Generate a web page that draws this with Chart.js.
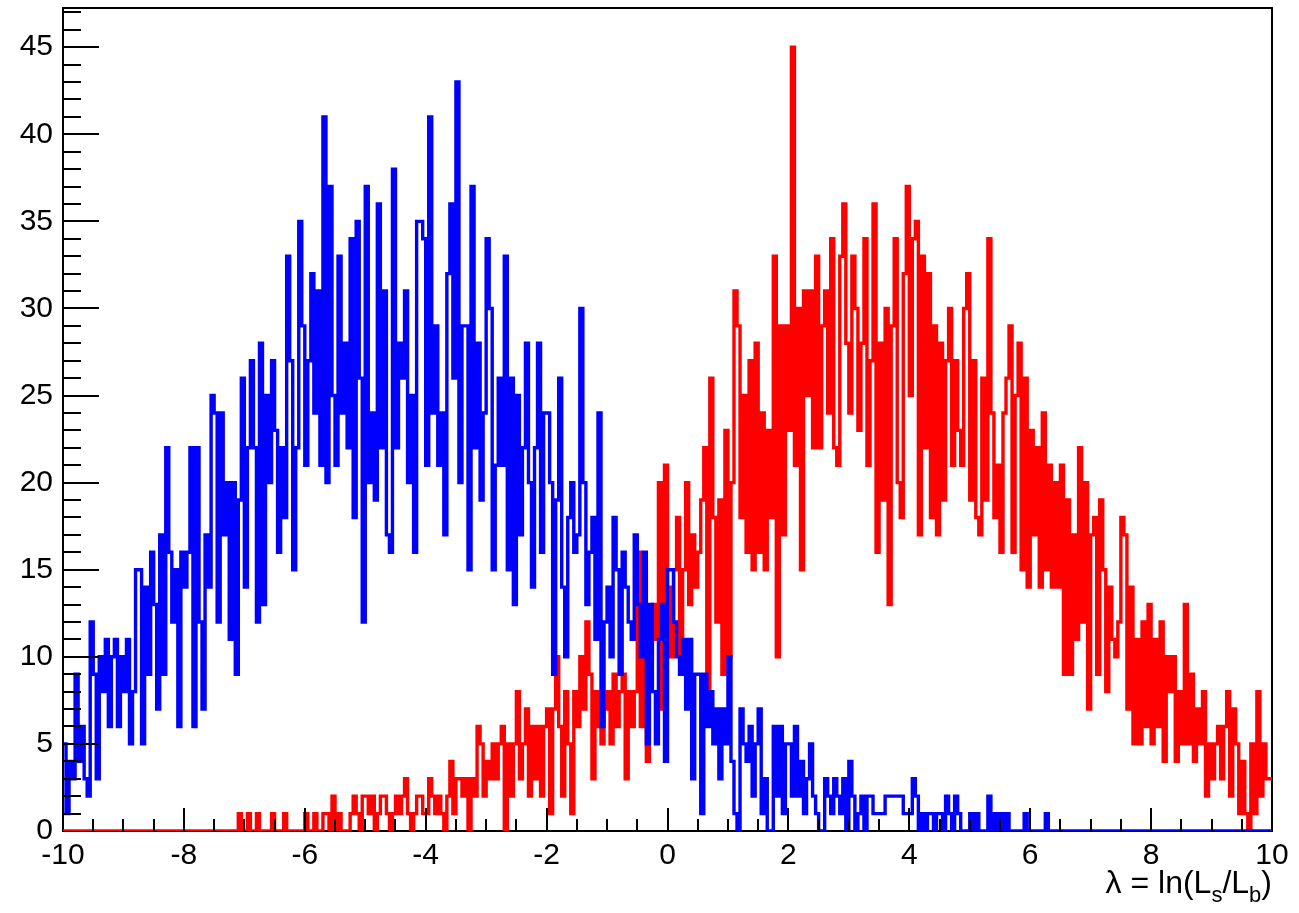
<!DOCTYPE html>
<html>
<head>
<meta charset="utf-8">
<script src="https://cdn.jsdelivr.net/npm/chart.js@4.4.0/dist/chart.umd.min.js"></script>
<style>
  html, body { margin: 0; padding: 0; background: #fff; }
  #wrap { width: 1299px; height: 913px; }
</style>
</head>
<body>
<div id="wrap"><canvas id="lambdaChart" width="1299" height="913"></canvas></div>
<script>
// binning of both histograms: 400 bins from -10 to 10
const xMin = -10;
const xMax = 10;
const binWidth = 0.05;
const yMax = 47.25;

const xTickValues = [-10, -8, -6, -4, -2, 0, 2, 4, 6, 8, 10];
const yTickValues = [0, 5, 10, 15, 20, 25, 30, 35, 40, 45];

// background hypothesis (blue), counts per bin
const blueCounts = [
  5, 1, 4, 3, 9, 4, 6, 3, 2, 12,   9, 3, 10, 8, 11, 6, 10, 11, 6, 10,
  8, 11, 5, 8, 15, 15, 5, 14, 9, 16,   13, 7, 17, 9, 22, 16, 12, 15, 6, 16,
  14, 16, 22, 6, 22, 12, 7, 17, 14, 25,   24, 12, 24, 17, 20, 11, 20, 9, 19, 26,
  14, 22, 27, 22, 12, 28, 13, 25, 20, 27,   23, 16, 22, 18, 33, 27, 15, 22, 35, 29,
  21, 27, 32, 24, 31, 21, 41, 20, 37, 25,   21, 33, 24, 28, 22, 34, 18, 35, 26, 12,
  37, 20, 24, 19, 36, 22, 31, 17, 16, 38,   22, 28, 26, 31, 20, 25, 16, 35, 35, 34,
  21, 41, 24, 29, 21, 24, 17, 32, 36, 26,   43, 20, 29, 29, 15, 37, 22, 28, 19, 24,
  34, 30, 15, 21, 26, 21, 33, 15, 26, 13,   25, 17, 22, 28, 20, 14, 22, 28, 16, 24,
  24, 20, 9, 19, 26, 14, 10, 18, 20, 16,   17, 30, 20, 13, 16, 18, 11, 24, 6, 12,
  14, 10, 18, 15, 9, 16, 14, 12, 11, 17,   13, 10, 16, 5, 13, 8, 5, 11, 13, 4,
  15, 15, 12, 10, 9, 11, 7, 11, 3, 9,   9, 1, 9, 6, 8, 5, 7, 3, 7, 5,
  10, 4, 1, 0, 7, 5, 4, 6, 2, 5,   7, 1, 3, 0, 0, 6, 2, 6, 1, 5,
  5, 2, 6, 2, 4, 1, 3, 5, 2, 1,   0, 0, 3, 2, 1, 3, 2, 1, 3, 0,
  4, 2, 0, 1, 2, 0, 2, 2, 1, 1,   1, 1, 2, 2, 2, 2, 2, 2, 1, 1,
  1, 3, 2, 0, 1, 0, 1, 1, 0, 1,   1, 0, 2, 1, 0, 2, 1, 0, 0, 0,
  1, 0, 1, 0, 0, 0, 2, 0, 1, 0,   1, 0, 1, 0, 0, 0, 0, 0, 1, 0,
  0, 0, 0, 0, 0, 1, 0, 0, 0, 0,   0, 0, 0, 0, 0, 0, 0, 0, 0, 0,
  0, 0, 0, 0, 0, 0, 0, 0, 0, 0,   0, 0, 0, 0, 0, 0, 0, 0, 0, 0,
  0, 0, 0, 0, 0, 0, 0, 0, 0, 0,   0, 0, 0, 0, 0, 0, 0, 0, 0, 0,
  0, 0, 0, 0, 0, 0, 0, 0, 0, 0,   0, 0, 0, 0, 0, 0, 0, 0, 0, 0
];

// signal hypothesis (red)
const redCounts = [
  0, 0, 0, 0, 0, 0, 0, 0, 0, 0,   0, 0, 0, 0, 0, 0, 0, 0, 0, 0,
  0, 0, 0, 0, 0, 0, 0, 0, 0, 0,   0, 0, 0, 0, 0, 0, 0, 0, 0, 0,
  0, 0, 0, 0, 0, 0, 0, 0, 0, 0,   0, 0, 0, 0, 0, 0, 0, 0, 1, 0,
  0, 1, 0, 0, 1, 0, 0, 0, 0, 1,   0, 0, 0, 1, 0, 0, 0, 0, 0, 0,
  1, 0, 0, 1, 0, 0, 1, 1, 0, 2,   0, 1, 0, 0, 0, 1, 2, 1, 0, 2,
  2, 1, 2, 0, 1, 2, 2, 1, 0, 1,   2, 1, 2, 3, 1, 0, 1, 2, 2, 1,
  1, 3, 2, 1, 2, 1, 0, 2, 4, 1,   3, 3, 2, 3, 0, 3, 2, 6, 5, 2,
  4, 3, 5, 3, 5, 6, 0, 5, 2, 5,   8, 3, 5, 7, 2, 6, 3, 6, 2, 6,
  7, 1, 7, 10, 6, 2, 8, 5, 1, 8,   6, 10, 7, 12, 9, 3, 8, 6, 5, 7,
  8, 5, 9, 6, 8, 9, 3, 8, 6, 8,   16, 6, 15, 4, 10, 13, 11, 20, 7, 21,
  14, 10, 15, 18, 9, 15, 20, 13, 17, 14,   16, 19, 22, 8, 26, 18, 12, 19, 9, 23,
  10, 20, 31, 29, 18, 25, 16, 27, 15, 28,   16, 24, 15, 23, 18, 33, 10, 29, 17, 29,
  23, 45, 21, 30, 15, 31, 25, 31, 22, 33,   22, 29, 31, 24, 34, 22, 21, 33, 36, 28,
  24, 33, 30, 23, 28, 34, 21, 27, 36, 16,   28, 19, 30, 13, 29, 34, 20, 18, 32, 37,
  25, 34, 35, 17, 33, 22, 32, 18, 29, 17,   28, 19, 27, 30, 21, 27, 23, 21, 30, 32,
  19, 27, 18, 17, 26, 19, 34, 24, 18, 21,   16, 24, 26, 29, 16, 25, 28, 15, 26, 14,
  23, 17, 22, 14, 24, 15, 21, 14, 20, 14,   21, 9, 19, 9, 17, 11, 22, 12, 20, 7,
  17, 18, 9, 19, 15, 8, 14, 11, 10, 12,   18, 17, 7, 14, 5, 11, 5, 12, 6, 13,
  5, 11, 6, 12, 4, 10, 8, 10, 4, 8,   5, 13, 5, 9, 4, 7, 5, 8, 2, 5,
  3, 5, 6, 3, 6, 8, 2, 7, 5, 1,   4, 1, 0, 5, 1, 8, 2, 5, 3, 3
];

const FONT = '"Liberation Sans", Arial, Helvetica, sans-serif';

// each bin becomes a point at its left edge; the last one closes the step at xMax
function histPoints(counts) {
  const pts = counts.map((c, i) => ({ x: xMin + i * binWidth, y: c }));
  pts.push({ x: xMax, y: counts[counts.length - 1] });
  return pts;
}

// ROOT-like frame under the histograms
const rootFrame = {
  id: 'rootFrame',
  beforeDatasetsDraw(chart) {
    const { ctx, chartArea: a } = chart;
    ctx.save();
    ctx.strokeStyle = '#000';
    ctx.lineWidth = 2;
    ctx.strokeRect(a.left, a.top, a.right - a.left, a.bottom - a.top);
    ctx.restore();
  },
  // ticks point inwards and sit on top of the histograms
  afterDatasetsDraw(chart) {
    const { ctx, chartArea: a, scales: { x, y } } = chart;
    ctx.save();
    ctx.strokeStyle = '#000';
    ctx.lineWidth = 2;
    ctx.beginPath();
    for (let k = 1; k < 40; k++) {
      const px = Math.round(x.getPixelForValue(xMin + k * 0.5));
      const len = k % 4 === 0 ? 23 : 12;
      ctx.moveTo(px, a.bottom);
      ctx.lineTo(px, a.bottom - len);
    }
    for (let v = 1; v <= yMax; v++) {
      const py = Math.round(y.getPixelForValue(v));
      const len = v % 5 === 0 ? 36 : 18;
      ctx.moveTo(a.left, py);
      ctx.lineTo(a.left + len, py);
    }
    ctx.stroke();
    ctx.restore();
  },
  // x axis title with subscripts: λ = ln(Ls/Lb)
  afterDraw(chart) {
    const { ctx, chartArea: a } = chart;
    const parts = [
      ['λ = ln(L', false], ['s', true], ['/L', false], ['b', true], [')', false]
    ];
    const big = '32px ' + FONT;
    const small = '22px ' + FONT;
    ctx.save();
    ctx.fillStyle = '#000';
    ctx.textAlign = 'left';
    ctx.textBaseline = 'alphabetic';
    let total = 0;
    parts.forEach(([t, sub]) => { ctx.font = sub ? small : big; total += ctx.measureText(t).width; });
    let cx = a.right - total;
    const base = 893;
    parts.forEach(([t, sub]) => {
      ctx.font = sub ? small : big;
      ctx.fillText(t, cx, sub ? base + 9 : base);
      cx += ctx.measureText(t).width;
    });
    ctx.restore();
  }
};

const histStyle = {
  borderWidth: 3.4,
  stepped: 'before',
  pointRadius: 0,
  fill: false,
  borderJoinStyle: 'miter',
  borderCapStyle: 'butt'
};

new Chart(document.getElementById('lambdaChart'), {
  type: 'line',
  data: {
    datasets: [
      // first dataset is painted last, blue sits on top like the reference
      { label: 'background', data: histPoints(blueCounts), borderColor: '#0000ff', ...histStyle },
      { label: 'signal', data: histPoints(redCounts), borderColor: '#ff0000', ...histStyle }
    ]
  },
  options: {
    responsive: false,
    animation: false,
    devicePixelRatio: 1,
    layout: { padding: { top: 8, right: 27, left: 0, bottom: 0 } },
    plugins: {
      legend: { display: false },
      tooltip: { enabled: false }
    },
    scales: {
      x: {
        type: 'linear',
        min: xMin,
        max: xMax,
        grid: { display: false, drawTicks: false },
        border: { display: false },
        afterBuildTicks: (s) => { s.ticks = xTickValues.map(v => ({ value: v })); },
        afterFit: (s) => { s.height = 82; s.paddingLeft = 0; s.paddingRight = 0; },
        ticks: {
          color: '#000',
          font: { family: FONT, size: 30 },
          padding: 7,
          maxRotation: 0,
          autoSkip: false
        }
      },
      y: {
        min: 0,
        max: yMax,
        grid: { display: false, drawTicks: false },
        border: { display: false },
        afterBuildTicks: (s) => { s.ticks = yTickValues.map(v => ({ value: v })); },
        afterFit: (s) => { s.width = 63; s.paddingTop = 0; s.paddingBottom = 0; },
        ticks: {
          color: '#000',
          font: { family: FONT, size: 30 },
          padding: 10
        }
      }
    }
  },
  plugins: [rootFrame]
});
</script>
</body>
</html>
